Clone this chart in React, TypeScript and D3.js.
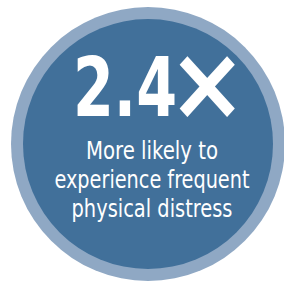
import { useEffect, useRef } from 'react';
import * as d3 from 'd3';

const multiplier = [2.4];
const labelLines = ['More likely to', 'experience frequent', 'physical distress'];
const labelWidths = [132, 195, 161];
const ringRadii = [137, 125];
const ringColors = ['#8fa8c4', '#41709a'];

export default function App() {
  const svgRef = useRef<SVGSVGElement>(null);

  useEffect(() => {
    if (!svgRef.current) return;
    const width = 284;
    const height = 284;
    const svg = d3.select(svgRef.current);
    svg.selectAll('*').remove();
    svg.attr('width', width).attr('height', height);

    svg.append('rect').attr('width', width).attr('height', height).attr('fill', '#ffffff');

    const g = svg.append('g').attr('transform', 'translate(148, 144)');

    // outer ring + inner disc
    g.selectAll('circle')
      .data(ringRadii)
      .join('circle')
      .attr('r', (d) => d)
      .attr('fill', (d, i) => ringColors[i]);

    const fmt = d3.format('.1f');
    const font = '"DejaVu Sans Condensed", "DejaVu Sans", sans-serif';

    // big number "2.4×": one text, the digits squeezed, the sign set larger
    const big = g.selectAll('text.big')
      .data(multiplier)
      .join('text')
      .attr('class', 'big')
      .attr('fill', '#ffffff')
      .style('font-family', font)
      .style('font-weight', 'bold');

    big.append('tspan')
      .attr('x', -75)
      .attr('y', -28)
      .attr('textLength', 104)
      .attr('lengthAdjust', 'spacingAndGlyphs')
      .style('font-size', '82px')
      .text((d) => fmt(d));

    big.append('tspan')
      .attr('x', 20)
      .attr('y', -25)
      .style('font-size', '104px')
      .text('×');

    const lineY = d3.scaleLinear().domain([0, 1]).range([15, 44]);

    g.selectAll('text.label')
      .data(labelLines)
      .join('text')
      .attr('class', 'label')
      .attr('x', 4)
      .attr('y', (d, i) => lineY(i))
      .attr('text-anchor', 'middle')
      .attr('fill', '#ffffff')
      .attr('textLength', (d, i) => labelWidths[i])
      .attr('lengthAdjust', 'spacingAndGlyphs')
      .style('font-family', font)
      .style('font-size', '24px')
      .text((d) => d);
  }, []);

  return <svg ref={svgRef} style={{ position: 'absolute', left: 0, top: 0 }}></svg>;
}
